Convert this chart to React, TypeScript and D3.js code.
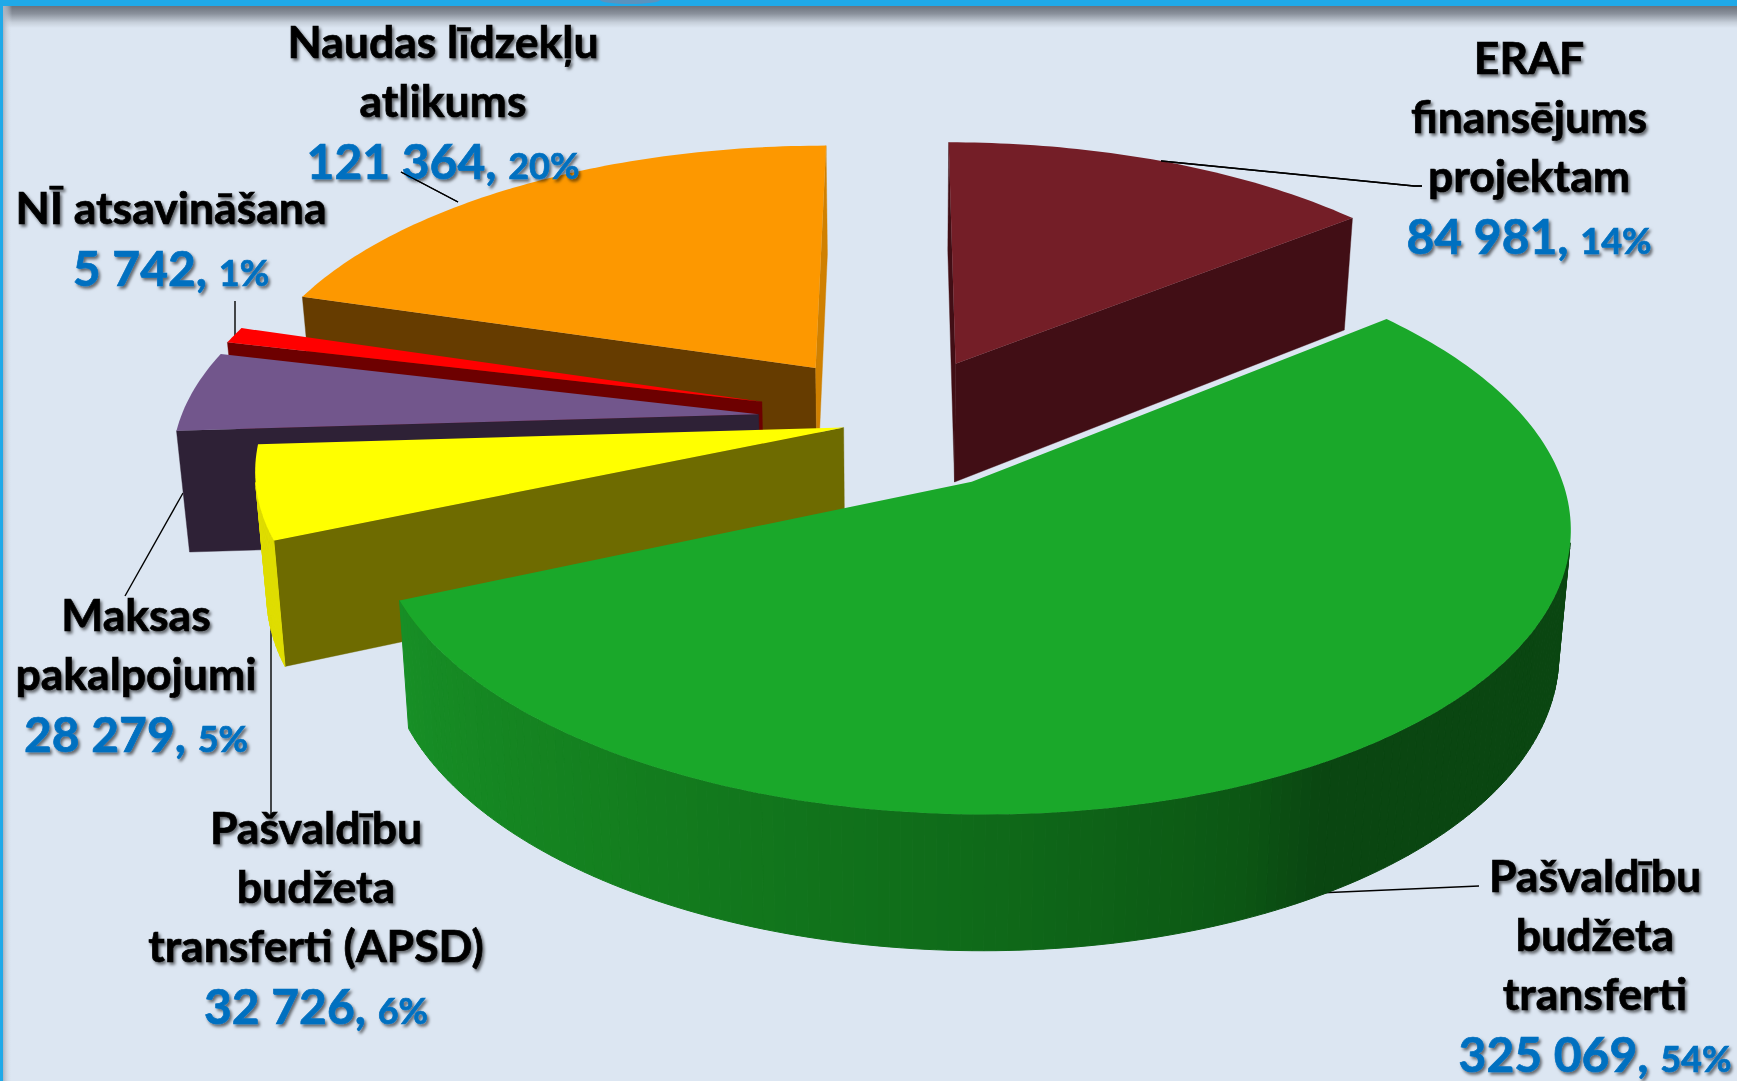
import React from "react";
import * as d3 from "d3";

const categories = [
  ["ERAF", "finansējums", "projektam"],
  ["Pašvaldību", "budžeta", "transferti"],
  ["Pašvaldību", "budžeta", "transferti (APSD)"],
  ["Maksas", "pakalpojumi"],
  ["NĪ atsavināšana"],
  ["Naudas līdzekļu", "atlikums"],
];
const values = [84981, 325069, 32726, 28279, 5742, 121364];
const percents = [14, 54, 6, 5, 1, 20];

// slice displacement and radius on the pie plane (nominal radius = 1)
const offsetX = [0.099, 0.12, -0.097, -0.245, -0.241, -0.15];
const offsetY = [0.209, -0.23, -0.035, 0.014, 0.061, 0.192];
const radii = [1, 0.988, 1, 1, 1, 1];

const topColors = ["#741E27", "#1AA82A", "#FFFF00", "#72568C", "#FF0000", "#FD9800"];
const cutColors = ["#410E15", "#0B4611", "#6E6B00", "#2E2136", "#6D0000", "#663C00"];
const sideColors = ["#410E15", "#0B4611", "#DFDD00", "#2E2136", "#6D0000", "#D08000"];
const endCutColors = ["#410E15", "#0B4611", "#6E6B00", "#2E2136", "#6D0000", "#D08000"];
const drawOrder = [0, 5, 4, 3, 2, 1];

const W = 1737;
const H = 1081;
const BG = "#DCE6F2";
const cx = 900;
const cy = 418;
const sX = 578;
const sY = 268;
const persp = 0.145;
const depthPx = 120.7;
const depthPersp = 0.094;
const depthShrink = 0.018;

const xScale = d3.scaleLinear().domain([-1, 1]).range([cx - sX, cx + sX]);
const yScale = d3.scaleLinear().domain([-1, 1]).range([cy + sY, cy - sY]);

type Pt = [number, number];
const project = (X: number, Y: number, z: number): Pt => {
  const w = 1 + persp * Y;
  const px = xScale(X / w);
  const py = yScale(Y / w) + (z * depthPx) / (1 + depthPersp * Y);
  return [cx + (px - cx) * (1 - depthShrink * z), py];
};

const line = d3.line<Pt>().x((d) => d[0]).y((d) => d[1]);
const closed = (pts: Pt[]) => line(pts) + "Z";
const area2 = (p: Pt[]) => {
  let s = 0;
  p.forEach((a, i) => {
    const b = p[(i + 1) % p.length];
    s += a[0] * b[1] - b[0] * a[1];
  });
  return s;
};

const greenShade = d3
  .scaleLinear<string>()
  .domain([247, 215, 180, 158, 150, 60].map((d) => (d * Math.PI) / 180))
  .range(["#178F26", "#14801F", "#0F6A19", "#0C5714", "#0A4611", "#0B4611"])
  .clamp(true);

const pie = d3.pie<number>().sort(null).startAngle(0).endAngle(2 * Math.PI);
const arcs = pie(values);
const fmt = (v: number) => d3.format(",")(v).replace(/,/g, " ");

const labelCenters: Pt[] = [
  [1529, 74],
  [1595, 892],
  [316, 844],
  [136, 631],
  [171, 224],
  [443, 58],
];
const leaders: Pt[][] = [
  [[1161, 161], [1414, 186], [1422, 186]],
  [[1318, 893], [1479, 886]],
  [[271, 615], [271, 814]],
  [[183, 493], [125, 596]],
  [[235, 301], [235, 338]],
  [[401, 172], [458, 202]],
];

function Slice({ i }: { i: number }) {
  const a = arcs[i];
  const dx = offsetX[i];
  const dy = offsetY[i];
  const R = radii[i];
  const P = (t: number, r: number, z: number) =>
    project(dx + r * R * Math.sin(t), dy + r * R * Math.cos(t), z);
  const n = Math.max(6, Math.round(((a.endAngle - a.startAngle) * 180) / Math.PI));
  const ts = d3.range(n + 1).map((k) => a.startAngle + ((a.endAngle - a.startAngle) * k) / n);
  const topPts: Pt[] = [P(0, 0, 0), ...ts.map((t) => P(t, 1, 0))];

  const sign = Math.sign(area2(topPts));
  const startFace: Pt[] = [P(a.startAngle, 0, 0), P(a.startAngle, 0, 1), P(a.startAngle, 1, 1), P(a.startAngle, 1, 0)];
  const endFace: Pt[] = [P(a.endAngle, 1, 0), P(a.endAngle, 1, 1), P(a.endAngle, 0, 1), P(a.endAngle, 0, 0)];
  const faces: { d: string; c: string; key: string }[] = [];

  const quads = ts.slice(0, -1).map((t, k) => {
    const t2 = ts[k + 1];
    return { pts: [P(t, 1, 0), P(t2, 1, 0), P(t2, 1, 1), P(t, 1, 1)] as Pt[], mid: (t + t2) / 2 };
  });

  if (Math.sign(area2(startFace)) === sign)
    faces.push({ d: closed(startFace), c: cutColors[i], key: "s" });
  if (Math.sign(area2(endFace)) === sign)
    faces.push({ d: closed(endFace), c: endCutColors[i], key: "e" });

  return (
    <g>
      {faces.map((f) => (
        <path key={f.key} d={f.d} fill={f.c} stroke={f.c} strokeWidth={0.4} />
      ))}
      {quads
        .filter((q) => Math.sign(area2(q.pts)) !== sign)
        .map((q, k) => {
          const c = i === 1 ? greenShade(q.mid) : sideColors[i];
          return <path key={k} d={closed(q.pts)} fill={c} stroke={c} strokeWidth={1} />;
        })}
      <path d={closed(topPts)} fill={topColors[i]} />
    </g>
  );
}

const FONT = "Lato, 'Open Sans', sans-serif";
const LINE_H = 59;

function Label({ i }: { i: number }) {
  const [x, y] = labelCenters[i];
  const lines = categories[i];
  return (
    <g fontFamily={FONT} fontWeight={700} textAnchor="middle" filter="url(#ts)">
      {lines.map((l, k) => (
        <text key={k} x={x} y={y + k * LINE_H} fontSize={44.5} fill="#000" stroke="#000" strokeWidth={0.7}>
          {l}
        </text>
      ))}
      <text x={x} y={y + lines.length * LINE_H + 3} fontSize={48} fill="#0070C0" stroke="#0070C0" strokeWidth={0.7}>
        {fmt(values[i])},{" "}
        <tspan fontSize={36}>{percents[i]}%</tspan>
      </text>
    </g>
  );
}

export default function App() {
  return (
    <svg
      width={W}
      height={H}
      viewBox={`0 0 ${W} ${H}`}
      style={{ position: "absolute", left: 0, top: 0, display: "block" }}
    >
      <defs>
        <linearGradient id="topShade" x1="0" y1="0" x2="0" y2="1">
          <stop offset="0" stopColor="#6C727C" />
          <stop offset="0.35" stopColor="#8A919C" />
          <stop offset="0.75" stopColor="#C6CFDA" />
          <stop offset="1" stopColor={BG} />
        </linearGradient>
        <linearGradient id="leftShade" x1="0" y1="0" x2="1" y2="0">
          <stop offset="0" stopColor="#A9B3C0" />
          <stop offset="1" stopColor={BG} stopOpacity={0} />
        </linearGradient>
        <filter id="ts" x="-10%" y="-10%" width="120%" height="130%">
          <feDropShadow dx="2" dy="2.5" stdDeviation="1.6" floodColor="#000" floodOpacity="0.55" />
        </filter>
      </defs>
      <rect width={W} height={H} fill={BG} />
      <rect x={0} y={6} width={W} height={22} fill="url(#topShade)" />
      <rect x={3} y={6} width={9} height={H} fill="url(#leftShade)" />
      <rect x={0} y={0} width={W} height={6} fill="#1FA9E8" />
      <rect x={0} y={0} width={3} height={H} fill="#1FA9E8" />
      <ellipse cx={630} cy={0} rx={30} ry={4} fill="#5B93BE" />
      {leaders.map((l, k) => (
        <path key={k} d={line(l) as string} fill="none" stroke="#000" strokeWidth={1.4} />
      ))}
      {drawOrder.map((i) => (
        <Slice key={i} i={i} />
      ))}
      {drawOrder.map((i) => (
        <Label key={i} i={i} />
      ))}
      {/* these two leaders run over the label text and the slice edge, as in the reference */}
      <path d={line(leaders[5]) as string} fill="none" stroke="#000" strokeWidth={1.4} />
      <path d={line(leaders[0]) as string} fill="none" stroke="#000" strokeWidth={1.4} />
    </svg>
  );
}
